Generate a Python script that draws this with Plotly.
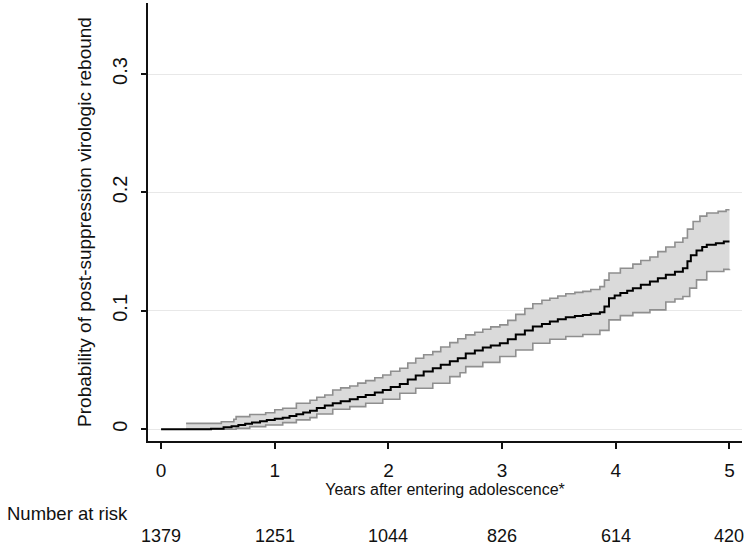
import plotly.graph_objects as go

# Kaplan-Meier style cumulative probability (estimate) and 95% CI bounds
est_t = [0.00, 0.44, 0.55, 0.62, 0.68, 0.74, 0.80, 0.87, 0.93, 1.00, 1.07, 1.13, 1.19, 1.25,
         1.31, 1.37, 1.44, 1.51, 1.58, 1.66, 1.73, 1.80, 1.88, 1.95, 2.02, 2.10, 2.17, 2.24,
         2.31, 2.39, 2.46, 2.54, 2.61, 2.68, 2.76, 2.83, 2.90, 2.98, 3.05, 3.12, 3.20, 3.27,
         3.35, 3.42, 3.49, 3.56, 3.64, 3.71, 3.78, 3.86, 3.90, 3.94, 3.99, 4.04, 4.10, 4.15,
         4.22, 4.30, 4.37, 4.44, 4.52, 4.59, 4.63, 4.66, 4.71, 4.76, 4.80, 4.88, 4.95, 5.00]
est_v = [0.0000, 0.0004, 0.0017, 0.0026, 0.0036, 0.0046, 0.0058, 0.0068, 0.0079, 0.0088,
         0.0098, 0.0112, 0.0127, 0.0142, 0.0157, 0.0180, 0.0200, 0.0220, 0.0236, 0.0254,
         0.0272, 0.0290, 0.0311, 0.0332, 0.0356, 0.0383, 0.0420, 0.0455, 0.0488, 0.0516,
         0.0545, 0.0575, 0.0600, 0.0640, 0.0665, 0.0690, 0.0708, 0.0727, 0.0760, 0.0800,
         0.0835, 0.0867, 0.0890, 0.0910, 0.0930, 0.0947, 0.0957, 0.0966, 0.0976, 0.0988,
         0.1036, 0.1107, 0.1130, 0.1150, 0.1170, 0.1192, 0.1220, 0.1248, 0.1276, 0.1304,
         0.1330, 0.1360, 0.1420, 0.1470, 0.1510, 0.1540, 0.1558, 0.1570, 0.1586, 0.1586]

upper_t = [0.22, 0.53, 0.64, 0.66, 0.78, 0.92, 1.00, 1.07, 1.19, 1.31, 1.37, 1.44, 1.51, 1.58,
           1.66, 1.73, 1.80, 1.88, 1.95, 2.02, 2.10, 2.17, 2.24, 2.31, 2.39, 2.46, 2.54, 2.61,
           2.68, 2.76, 2.83, 2.90, 2.98, 3.05, 3.12, 3.20, 3.27, 3.35, 3.42, 3.49, 3.56, 3.64,
           3.71, 3.78, 3.86, 3.90, 3.94, 4.04, 4.15, 4.22, 4.30, 4.37, 4.44, 4.52, 4.59, 4.63,
           4.68, 4.74, 4.80, 4.90, 4.97, 5.00]
upper_v = [0.0050, 0.0064, 0.0085, 0.0107, 0.0125, 0.0140, 0.0165, 0.0178, 0.0220, 0.0245,
           0.0270, 0.0290, 0.0332, 0.0350, 0.0366, 0.0390, 0.0411, 0.0435, 0.0459, 0.0490,
           0.0516, 0.0560, 0.0600, 0.0630, 0.0656, 0.0695, 0.0732, 0.0765, 0.0797, 0.0820,
           0.0845, 0.0865, 0.0882, 0.0920, 0.0970, 0.1020, 0.1060, 0.1090, 0.1107, 0.1125,
           0.1144, 0.1156, 0.1165, 0.1180, 0.1205, 0.1260, 0.1320, 0.1360, 0.1395, 0.1425,
           0.1455, 0.1500, 0.1540, 0.1580, 0.1615, 0.1690, 0.1755, 0.1800, 0.1826, 0.1840,
           0.1854, 0.1854]

lower_t = [0.22, 0.66, 0.78, 0.92, 1.07, 1.19, 1.31, 1.37, 1.51, 1.66, 1.80, 1.95, 2.10, 2.24,
           2.39, 2.54, 2.63, 2.68, 2.83, 2.98, 3.12, 3.27, 3.42, 3.56, 3.71, 3.86, 3.94, 4.04,
           4.15, 4.30, 4.44, 4.52, 4.59, 4.65, 4.71, 4.80, 4.95, 5.00]
lower_v = [0.0000, 0.0008, 0.0022, 0.0036, 0.0056, 0.0079, 0.0098, 0.0129, 0.0169, 0.0191,
           0.0220, 0.0254, 0.0304, 0.0347, 0.0389, 0.0445, 0.0478, 0.0529, 0.0565, 0.0614,
           0.0670, 0.0727, 0.0760, 0.0783, 0.0800, 0.0835, 0.0924, 0.0960, 0.0985, 0.1008,
           0.1075, 0.1100, 0.1121, 0.1192, 0.1262, 0.1332, 0.1350, 0.1352]

x_ticks = [0, 1, 2, 3, 4, 5]
y_ticks = [0, 0.1, 0.2, 0.3]
y_tick_labels = ["0", "0.1", "0.2", "0.3"]
risk_years = [0, 1, 2, 3, 4, 5]
risk_counts = [1379, 1251, 1044, 826, 614, 420]

FONT = "Arial, Liberation Sans, sans-serif"
PLOT_H = 438  # plot-area height in px (547 - 3 - 106)

fig = go.Figure()
fig.add_trace(go.Scatter(x=lower_t, y=lower_v, mode="lines", line_shape="hv",
                         line=dict(color="#8f8f8f", width=1.6), showlegend=False,
                         hoverinfo="skip"))
fig.add_trace(go.Scatter(x=upper_t, y=upper_v, mode="lines", line_shape="hv",
                         line=dict(color="#8f8f8f", width=1.6), fill="tonexty",
                         fillcolor="#dadada", showlegend=False, hoverinfo="skip"))
fig.add_trace(go.Scatter(x=est_t, y=est_v, mode="lines", line_shape="hv",
                         line=dict(color="#000000", width=2), showlegend=False))

annotations = []
annotations.append(dict(text="Number at risk", x=-143 / 594, y=-(513 - 441) / PLOT_H,
                        xref="paper", yref="paper", xanchor="left", yanchor="middle",
                        showarrow=False, font=dict(size=18.5, color="#111", family=FONT)))
for yr, n in zip(risk_years, risk_counts):
    annotations.append(dict(text=str(n), x=yr, y=-(536 - 441) / PLOT_H, xref="x", yref="paper",
                            xanchor="center", yanchor="middle", showarrow=False,
                            font=dict(size=18, color="#111", family=FONT)))

fig.update_layout(
    width=750, height=547,
    margin=dict(l=148, r=8, t=3, b=106),
    paper_bgcolor="white", plot_bgcolor="white",
    font=dict(family=FONT, color="#111"),
    annotations=annotations,
    xaxis=dict(range=[-0.115, 5.11], tickvals=x_ticks, ticks="outside", ticklen=6,
               tickwidth=1.5, tickcolor="#111", showline=True, linecolor="#111", linewidth=1.5,
               showgrid=False, zeroline=False, tickfont=dict(size=19), ticklabelstandoff=5,
               title=dict(text="Years after entering adolescence*", font=dict(size=16),
                          standoff=1),
               automargin=False),
    yaxis=dict(range=[-0.0099, 0.360], tickvals=y_ticks, ticktext=y_tick_labels,
               ticks="outside", ticklen=5, tickwidth=1.5, tickcolor="#111", tickangle=-90,
               showline=True, linecolor="#111", linewidth=1.5,
               showgrid=True, gridcolor="#e8e8e8", gridwidth=1, zeroline=False,
               tickfont=dict(size=20), ticklabelstandoff=6,
               title=dict(text="Probability of post-suppression virologic rebound",
                          font=dict(size=19), standoff=13),
               automargin=False),
)

fig.write_html("out.html", config={"displayModeBar": False},
               post_script="document.body.style.margin='0';")
